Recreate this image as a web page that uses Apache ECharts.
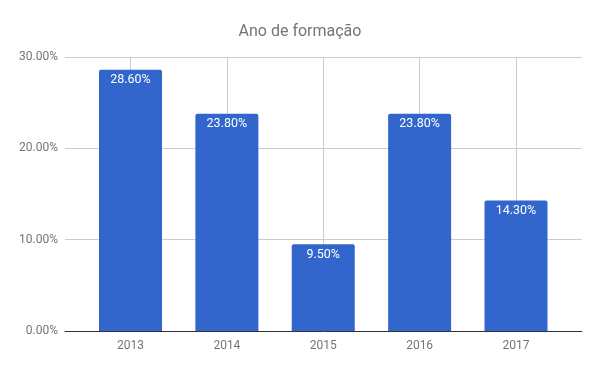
<!DOCTYPE html>
<html>
<head>
<meta charset="utf-8">
<script src="https://cdn.jsdelivr.net/npm/echarts@6/dist/echarts.min.js"></script>
<style>
  html, body { margin: 0; padding: 0; background: #fff; }
  #chart { width: 600px; height: 371px; }
</style>
</head>
<body>
<div id="chart"></div>
<script>
// dados
var years = ['2013', '2014', '2015', '2016', '2017'];
var shares = [28.6, 23.8, 9.5, 23.8, 14.3]; // %
var yTicks = [0, 10, 20, 30];

var myChart = echarts.init(document.getElementById('chart'));

var font = 'Roboto, "Noto Sans", sans-serif';
var grey = '#757575';

myChart.setOption({
    backgroundColor: '#fff',
    animation: false,
    title: {
        text: 'Ano de formação',
        left: 'center',
        top: 19,
        textStyle: { color: grey, fontSize: 16, fontWeight: 'normal', fontFamily: font }
    },
    grid: [
        { left: 65, right: 18, top: 57, bottom: 40 },   // eixo y + linhas horizontais
        { left: 130.5, right: 84, top: 57, bottom: 40 } // barras
    ],
    xAxis: [{
        gridIndex: 0,
        type: 'value',
        min: 0, max: 1,
        axisLine: { show: true, lineStyle: { color: '#333', width: 1 } },
        axisTick: { show: false },
        axisLabel: { show: false },
        splitLine: { show: false }
    }, {
        gridIndex: 1,
        type: 'category',
        data: years,
        boundaryGap: false,
        axisLine: { show: false },
        axisTick: { show: false },
        axisLabel: { color: grey, fontSize: 12, fontFamily: font, margin: 9 },
        splitLine: { show: true, lineStyle: { color: '#ccc' } }
    }],
    yAxis: [{
        gridIndex: 0,
        type: 'value',
        min: yTicks[0], max: yTicks[yTicks.length - 1], interval: 10,
        axisLine: { show: false },
        axisTick: { show: false },
        axisLabel: {
            color: grey, fontSize: 12, fontFamily: font, margin: 7,
            formatter: function (v) { return v.toFixed(2) + '%'; }
        },
        splitLine: { lineStyle: { color: '#ccc' } }
    }, {
        gridIndex: 1,
        type: 'value',
        min: 0, max: 30,
        show: false
    }],
    series: [{
        type: 'bar',
        xAxisIndex: 1,
        yAxisIndex: 1,
        data: shares,
        barWidth: 63,
        itemStyle: { color: '#3366cc', borderRadius: [2, 2, 0, 0] },
        label: {
            show: true,
            position: 'insideTop',
            distance: 4,
            color: '#fff',
            fontSize: 12.5,
            fontFamily: font,
            formatter: function (p) { return p.value.toFixed(2) + '%'; }
        }
    }]
});
</script>
</body>
</html>
